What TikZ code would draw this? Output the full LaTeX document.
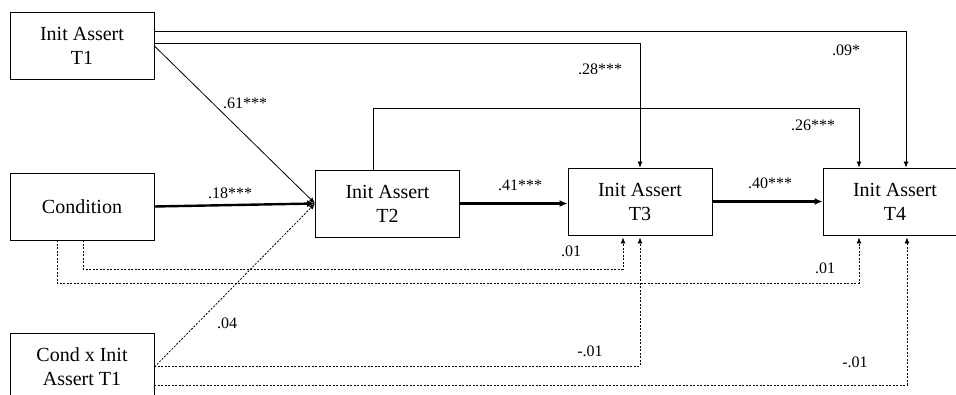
\documentclass[tikz,border=0pt]{standalone}
\usepackage{fontspec}
\setmainfont{Liberation Serif}
\usetikzlibrary{arrows.meta}

\begin{document}
\begin{tikzpicture}[x=1pt, y=-1pt,
  var node/.style={draw, line width=0.9pt, minimum width=144pt, minimum height=67pt, inner sep=0pt, align=center, font=\fontsize{20}{24}\selectfont},
  coef/.style={inner sep=0pt, font=\fontsize{16}{19}\selectfont},
  path line/.style={line width=0.8pt, -{Latex[length=6pt,width=5pt]}},
  main line/.style={line width=2.4pt, -{Latex[length=8pt,width=7pt]}},
  ns line/.style={line width=0.8pt, dash pattern=on 2pt off 1.5pt, -{Latex[length=6pt,width=5pt]}}]

  \useasboundingbox (0,0) rectangle (956,395);

  \node[var node] (t1) at (82,46) {Init Assert\\T1};
  \node[var node] (cond) at (82,206.5) {Condition};
  \node[var node] (condx) at (82,367) {Cond x Init\\Assert T1};
  \node[var node] (t2) at (387.5,203.5) {Init Assert\\T2};
  \node[var node] (t3) at (640,201.5) {Init Assert\\T3};
  \node[var node] (t4) at (895,201.5) {Init Assert\\T4};

  % turning points
  \coordinate (a1) at (906,31);
  \coordinate (a2) at (640,43);
  \coordinate (b3) at (373,108);
  \coordinate (a3) at (859,108);
  \coordinate (c1) at (83,269);
  \coordinate (c1e) at (623,269);
  \coordinate (c2) at (57,283);
  \coordinate (c2e) at (859,283);
  \coordinate (d1) at (640,366);
  \coordinate (d2) at (907,385);

  % significant paths
  \draw[path line] (a1 -| t1.east) -- (a1) -- (a1 |- t4.north);
  \draw[path line] (a2 -| t1.east) -- (a2) -- (t3.north);
  \draw[path line] (b3 |- t2.north) -- (b3) -- (a3) -- (a3 |- t4.north);
  \draw[path line] (t1.east) -- (t2.west);
  \draw[main line] (cond.east) -- (t2.west);
  \draw[main line] (t2.east) -- (t2.east -| t3.west);
  \draw[main line] (t3.east) -- (t3.east -| t4.west);

  % non significant paths
  \draw[ns line, shorten >=2pt] (c1 |- cond.south) -- (c1) -- (c1e) -- (c1e |- t3.south);
  \draw[ns line, shorten >=2pt] (c2 |- cond.south) -- (c2) -- (c2e) -- (c2e |- t4.south);
  \draw[ns line] (condx.east) -- (t2.west);
  \draw[ns line, shorten >=2pt] (d1 -| condx.east) -- (d1) -- (t3.south);
  \draw[ns line, shorten >=2pt] (d2 -| condx.east) -- (d2) -- (d2 |- t4.south);

  % coefficients
  \node[coef] (k1) at (846,50) {.09*};
  \node[coef] (k2) at (600,69) {.28***};
  \node[coef] (k3) at (813,125) {.26***};
  \node[coef] (k4) at (245,103) {.61***};
  \node[coef] (k5) at (230,193) {.18***};
  \node[coef] (k6) at (520,185) {.41***};
  \node[coef] (k7) at (770,183) {.40***};
  \node[coef] (k8) at (571,251) {.01};
  \node[coef] (k9) at (825,268) {.01};
  \node[coef] (k10) at (227,323) {.04};
  \node[coef] (k11) at (590,351) {-.01};
  \node[coef] (k12) at (855,362) {-.01};

\end{tikzpicture}
\end{document}
